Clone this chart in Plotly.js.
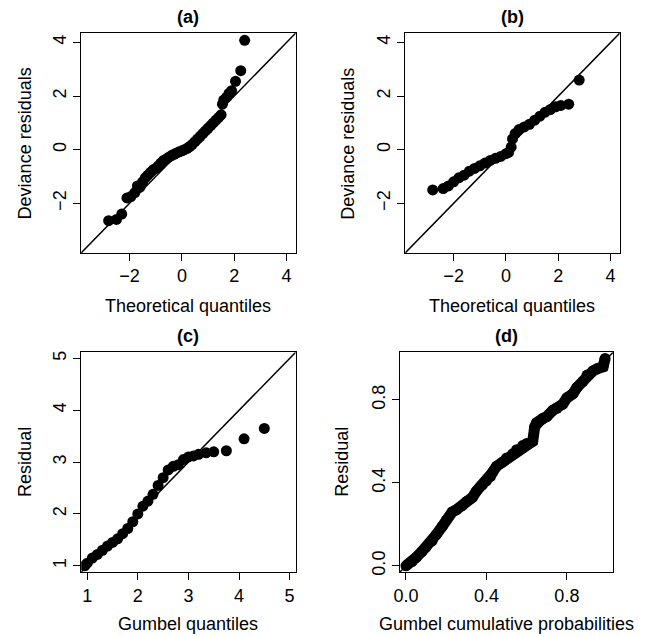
<!DOCTYPE html>
<html>
<head>
<meta charset="utf-8">
<script src="https://cdn.plot.ly/plotly-3.0.1.min.js"></script>
<style>html,body{margin:0;padding:0;background:#fff}</style>
</head>
<body>
<div id="chart" style="width:660px;height:637px"></div>
<script>
// (a) deviance residuals vs theoretical quantiles
const aX = [-2.8,-2.5,-2.3,-2.1,-1.95,-1.8,-1.7,-1.6,-1.5,-1.4,-1.3,-1.2,-1.1,-1.0,-0.9,-0.8,-0.7,-0.6,-0.5,-0.4,-0.3,-0.2,-0.1,0,0.1,0.2,0.3,0.4,0.5,0.6,0.7,0.8,0.9,1.0,1.1,1.2,1.3,1.4,1.5,1.55,1.6,1.7,1.8,1.9,2.05,2.25,2.4];
const aY = [-2.65,-2.6,-2.4,-1.8,-1.75,-1.6,-1.35,-1.4,-1.2,-1.05,-0.95,-0.85,-0.75,-0.7,-0.6,-0.5,-0.4,-0.35,-0.28,-0.22,-0.17,-0.12,-0.08,-0.04,0,0.05,0.12,0.2,0.3,0.4,0.5,0.6,0.7,0.8,0.9,1.0,1.1,1.2,1.3,1.7,1.85,1.95,2.1,2.2,2.55,2.95,4.08];
// (b)
const bX = [-2.8,-2.4,-2.2,-2.0,-1.8,-1.6,-1.4,-1.2,-1.0,-0.8,-0.6,-0.4,-0.2,0,0.1,0.2,0.25,0.35,0.5,0.7,0.9,1.1,1.3,1.5,1.7,1.9,2.1,2.4,2.8];
const bY = [-1.5,-1.45,-1.35,-1.2,-1.05,-0.95,-0.8,-0.7,-0.6,-0.5,-0.4,-0.32,-0.25,-0.15,-0.1,0.1,0.4,0.6,0.75,0.85,0.95,1.1,1.25,1.4,1.5,1.6,1.65,1.7,2.6];
// (c) residual vs Gumbel quantiles
const cX = [0.95,1.0,1.1,1.2,1.3,1.4,1.5,1.6,1.7,1.8,1.9,2.0,2.1,2.2,2.3,2.4,2.5,2.6,2.7,2.8,2.9,3.0,3.1,3.2,3.35,3.5,3.75,4.1,4.5];
const cY = [1.0,1.05,1.15,1.22,1.3,1.38,1.45,1.52,1.62,1.72,1.85,2.0,2.15,2.25,2.38,2.55,2.7,2.85,2.92,2.95,3.05,3.1,3.12,3.15,3.18,3.2,3.22,3.45,3.65];
// (d) residual vs Gumbel cumulative probabilities
const dX = [0,0.03,0.05,0.08,0.1,0.13,0.15,0.18,0.2,0.23,0.25,0.28,0.3,0.33,0.35,0.38,0.4,0.42,0.43,0.45,0.48,0.5,0.53,0.55,0.58,0.6,0.63,0.64,0.65,0.68,0.7,0.73,0.75,0.78,0.8,0.83,0.85,0.88,0.9,0.93,0.95,0.98,0.99];
const dY = [0,0.02,0.04,0.07,0.09,0.12,0.15,0.19,0.22,0.26,0.27,0.29,0.31,0.33,0.36,0.39,0.41,0.43,0.45,0.48,0.5,0.52,0.54,0.56,0.58,0.59,0.6,0.67,0.69,0.71,0.72,0.75,0.76,0.78,0.81,0.83,0.86,0.89,0.92,0.94,0.95,0.96,1.0];

const font = { family: "Liberation Sans, Arial, sans-serif", size: 18, color: "#000" };
const mk = { color: "#000", size: 11 };

function pts(x, y, ax, mode) {
  return { x, y, xaxis: "x" + ax, yaxis: "y" + ax, type: "scatter", mode: mode || "markers",
    marker: mk, line: { color: "#000", width: 11 }, hoverinfo: "skip" };
}

function axis(domain, range, dtick, anchor, isY, fmt) {
  return { domain, range, dtick, anchor, showgrid: false, zeroline: false,
    showline: true, mirror: true, linecolor: "#000", linewidth: 1,
    ticks: "outside", ticklen: 7, tickcolor: "#000", tickfont: font,
    tickformat: fmt || "", tickangle: isY ? -90 : 0 };
}

const dA = { x: [0.123, 0.448], y: [0.603, 0.948] };
const dB = { x: [0.614, 0.939], y: [0.603, 0.948] };
const dC = { x: [0.123, 0.448], y: [0.102, 0.447] };
const dD = { x: [0.606, 0.929], y: [0.102, 0.447] };
const rA = [-3.85, 4.35], rC = [0.88, 5.12], rD = [-0.03, 1.03];

function diag(ax, r) {
  return { type: "line", xref: "x" + ax, yref: "y" + ax, x0: r[0], y0: r[0], x1: r[1], y1: r[1],
    line: { color: "#000", width: 1.5 }, layer: "below" };
}

function label(text, x, y, angle, bold) {
  return { text: bold ? "<b>" + text + "</b>" : text, xref: "paper", yref: "paper", x, y,
    xanchor: "center", yanchor: "middle",
    showarrow: false, textangle: angle || 0, font: { ...font, size: 18 } };
}

const layout = {
  width: 660, height: 637, margin: { t: 0, r: 0, b: 0, l: 0 },
  paper_bgcolor: "#fff", plot_bgcolor: "#fff", showlegend: false, font,
  xaxis: axis(dA.x, rA, 2, "y", false), yaxis: axis(dA.y, rA, 2, "x", true),
  xaxis2: axis(dB.x, rA, 2, "y2", false), yaxis2: axis(dB.y, rA, 2, "x2", true),
  xaxis3: axis(dC.x, rC, 1, "y3", false), yaxis3: axis(dC.y, rC, 1, "x3", true),
  xaxis4: axis(dD.x, rD, 0.4, "y4", false, ".1f"), yaxis4: axis(dD.y, rD, 0.4, "x4", true, ".1f"),
  shapes: [diag("", rA), diag("2", rA), diag("3", rC), diag("4", rD)],
  annotations: [
    label("(a)", 0.285, 0.973, 0, true), label("(b)", 0.776, 0.973, 0, true),
    label("(c)", 0.285, 0.473, 0, true), label("(d)", 0.767, 0.473, 0, true),
    label("Theoretical quantiles", 0.285, 0.519), label("Theoretical quantiles", 0.776, 0.519),
    label("Gumbel quantiles", 0.285, 0.021), label("Gumbel cumulative probabilities", 0.767, 0.021),
    label("Deviance residuals", 0.038, 0.775, -90), label("Deviance residuals", 0.528, 0.775, -90),
    label("Residual", 0.038, 0.275, -90), label("Residual", 0.518, 0.275, -90)
  ]
};
layout.shapes[0].xref = "x"; layout.shapes[0].yref = "y";

Plotly.newPlot("chart", [pts(aX, aY, ""), pts(bX, bY, "2"), pts(cX, cY, "3"), pts(dX, dY, "4", "lines+markers")],
  layout, { displayModeBar: false, staticPlot: true });
</script>
</body>
</html>
